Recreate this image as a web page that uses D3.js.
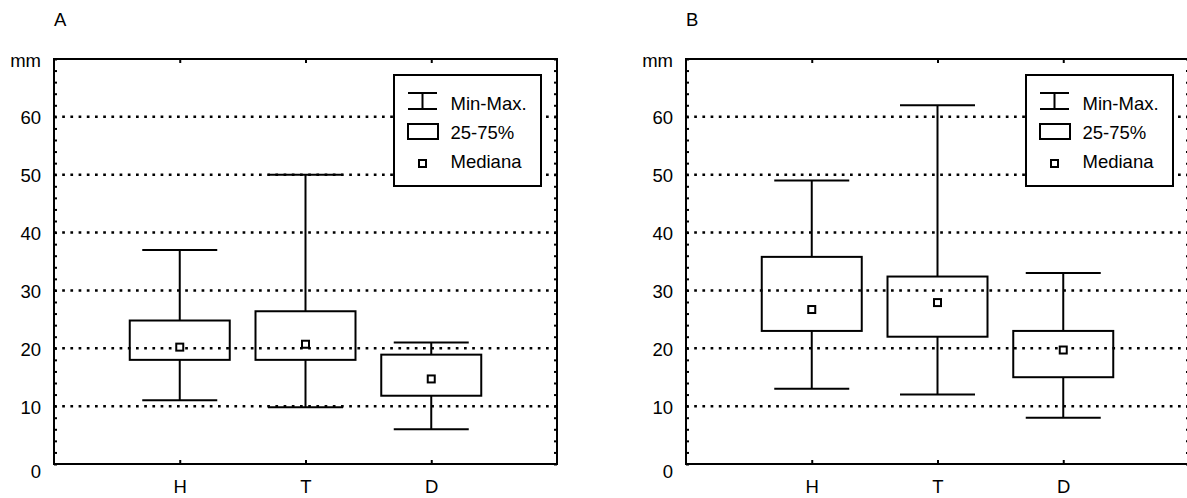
<!DOCTYPE html>
<html>
<head>
<meta charset="utf-8">
<script src="https://cdn.jsdelivr.net/npm/d3@7"></script>
<style>
  body { margin: 0; background: #fff; }
  svg text { font-family: "Liberation Sans", Arial, Helvetica, sans-serif; font-size: 18.5px; fill: #000; }
</style>
</head>
<body>
<div id="chart"></div>
<script>
// categories and tick values
const categories = ["H", "T", "D"];
const yTicks = [0, 10, 20, 30, 40, 50, 60, 70];
const gridValues = [10, 20, 30, 40, 50, 60];
const legendLabels = ["Min-Max.", "25-75%", "Mediana"];

// panel A
const aMin = [11, 9.8, 6];
const aQ1 = [18, 18, 11.8];
const aMedian = [20.2, 20.7, 14.7];
const aQ3 = [24.8, 26.4, 18.9];
const aMax = [37, 50, 21];

// panel B
const bMin = [13, 12, 8];
const bQ1 = [23, 22, 15];
const bMedian = [26.7, 27.9, 19.7];
const bQ3 = [35.8, 32.4, 23];
const bMax = [49, 62, 33];

const panels = [
    {title: "A", left: 54, min: aMin, q1: aQ1, med: aMedian, q3: aQ3, max: aMax},
    {title: "B", left: 686, min: bMin, q1: bQ1, med: bMedian, q3: bQ3, max: bMax}
];

const W = 1187, H = 498;
const plotTop = 59, plotW = 503, plotH = 405;
const boxW = 100, capW = 75, medSize = 7;

let svg = d3.select("#chart").append("svg")
    .attr("width", W)
    .attr("height", H);

let yScale = d3.scaleLinear().domain([0, 70]).range([plotH, 0]);
let xScale = d3.scalePoint().domain(categories).range([0, plotW]).padding(1);

panels.forEach(p =>
{
    let g = svg.append("g").attr("transform", "translate(" + p.left + "," + plotTop + ")");

    //Title
    svg.append("text")
        .attr("x", p.left)
        .attr("y", 26)
        .text(p.title);

    //Dotted grid
    g.selectAll(".grid")
        .data(gridValues)
        .enter().append("line")
        .attr("x1", 0)
        .attr("x2", plotW)
        .attr("y1", d => yScale(d))
        .attr("y2", d => yScale(d))
        .attr("stroke", "#000")
        .attr("stroke-width", 2.5)
        .attr("stroke-dasharray", "2.7,5.5");

    //Box data
    let rows = categories.map((c, i) => ({c: c, min: p.min[i], q1: p.q1[i], med: p.med[i], q3: p.q3[i], max: p.max[i]}));

    let boxes = g.selectAll(".box").data(rows).enter().append("g");

    //whiskers
    boxes.append("line")
        .attr("x1", d => xScale(d.c)).attr("x2", d => xScale(d.c))
        .attr("y1", d => yScale(d.max)).attr("y2", d => yScale(d.q3))
        .attr("stroke", "#000").attr("stroke-width", 2);
    boxes.append("line")
        .attr("x1", d => xScale(d.c)).attr("x2", d => xScale(d.c))
        .attr("y1", d => yScale(d.q1)).attr("y2", d => yScale(d.min))
        .attr("stroke", "#000").attr("stroke-width", 2);
    boxes.append("line")
        .attr("x1", d => xScale(d.c) - capW / 2).attr("x2", d => xScale(d.c) + capW / 2)
        .attr("y1", d => yScale(d.max)).attr("y2", d => yScale(d.max))
        .attr("stroke", "#000").attr("stroke-width", 2);
    boxes.append("line")
        .attr("x1", d => xScale(d.c) - capW / 2).attr("x2", d => xScale(d.c) + capW / 2)
        .attr("y1", d => yScale(d.min)).attr("y2", d => yScale(d.min))
        .attr("stroke", "#000").attr("stroke-width", 2);

    //25-75% box
    boxes.append("rect")
        .attr("x", d => xScale(d.c) - boxW / 2)
        .attr("y", d => yScale(d.q3))
        .attr("width", boxW)
        .attr("height", d => yScale(d.q1) - yScale(d.q3))
        .attr("fill", "none")
        .attr("stroke", "#000").attr("stroke-width", 2);

    //median
    boxes.append("rect")
        .attr("x", d => xScale(d.c) - medSize / 2)
        .attr("y", d => yScale(d.med) - medSize / 2)
        .attr("width", medSize).attr("height", medSize)
        .attr("fill", "#fff")
        .attr("stroke", "#000").attr("stroke-width", 2);

    //Legend
    let lx = plotW - 16 - 147, ly = 16;
    let lg = g.append("g").attr("transform", "translate(" + lx + "," + ly + ")");
    lg.append("rect")
        .attr("width", 147).attr("height", 111)
        .attr("fill", "#fff")
        .attr("stroke", "#000").attr("stroke-width", 2);
    lg.append("path")
        .attr("d", "M14,18H43M28.5,18V34M14,34H43")
        .attr("fill", "none").attr("stroke", "#000").attr("stroke-width", 2);
    lg.append("rect")
        .attr("x", 14).attr("y", 49).attr("width", 30).attr("height", 15)
        .attr("fill", "none").attr("stroke", "#000").attr("stroke-width", 2);
    lg.append("rect")
        .attr("x", 28.5 - medSize / 2).attr("y", 88.5 - medSize / 2)
        .attr("width", medSize).attr("height", medSize)
        .attr("fill", "#fff").attr("stroke", "#000").attr("stroke-width", 2);
    lg.selectAll(".ltext")
        .data(legendLabels)
        .enter().append("text")
        .attr("x", 56.5)
        .attr("y", (d, i) => 35 + i * 28.8)
        .text(d => d);

    //Frame
    g.append("rect")
        .attr("width", plotW).attr("height", plotH)
        .attr("fill", "none")
        .attr("stroke", "#000").attr("stroke-width", 2);

    //Minor ticks, inward on all sides
    let minor = d3.range(0, 71, 2);
    g.append("g")
        .call(d3.axisRight(yScale).tickValues(minor).tickSize(3).tickSizeOuter(0).tickFormat(""))
        .call(a => a.select(".domain").remove())
        .selectAll("line").attr("stroke-width", 2);
    g.append("g")
        .attr("transform", "translate(" + plotW + ",0)")
        .call(d3.axisLeft(yScale).tickValues(minor).tickSize(3).tickSizeOuter(0).tickFormat(""))
        .call(a => a.select(".domain").remove())
        .selectAll("line").attr("stroke-width", 2);
    g.append("g")
        .call(d3.axisBottom(xScale).tickSize(4).tickSizeOuter(0).tickFormat(""))
        .call(a => a.select(".domain").remove())
        .selectAll("line").attr("stroke-width", 2);
    g.append("g")
        .attr("transform", "translate(0," + plotH + ")")
        .call(d3.axisTop(xScale).tickSize(4).tickSizeOuter(0).tickFormat(""))
        .call(a => a.select(".domain").remove())
        .selectAll("line").attr("stroke-width", 2);

    //Y labels
    let yl = g.append("g")
        .call(d3.axisLeft(yScale).tickValues(yTicks).tickSize(0).tickPadding(13)
            .tickFormat(d => d === 70 ? "mm" : d));
    yl.select(".domain").remove();
    yl.selectAll("text")
        .attr("dy", d => d === 0 ? "0.75em" : "0.38em")
        .style("font-size", "18.5px")
        .style("font-family", "'Liberation Sans', Arial, sans-serif");

    //X labels
    let xl = g.append("g")
        .attr("transform", "translate(0," + plotH + ")")
        .call(d3.axisBottom(xScale).tickSize(0).tickPadding(16));
    xl.select(".domain").remove();
    xl.selectAll("text")
        .style("font-size", "18.5px")
        .style("font-family", "'Liberation Sans', Arial, sans-serif");
});
</script>
</body>
</html>
